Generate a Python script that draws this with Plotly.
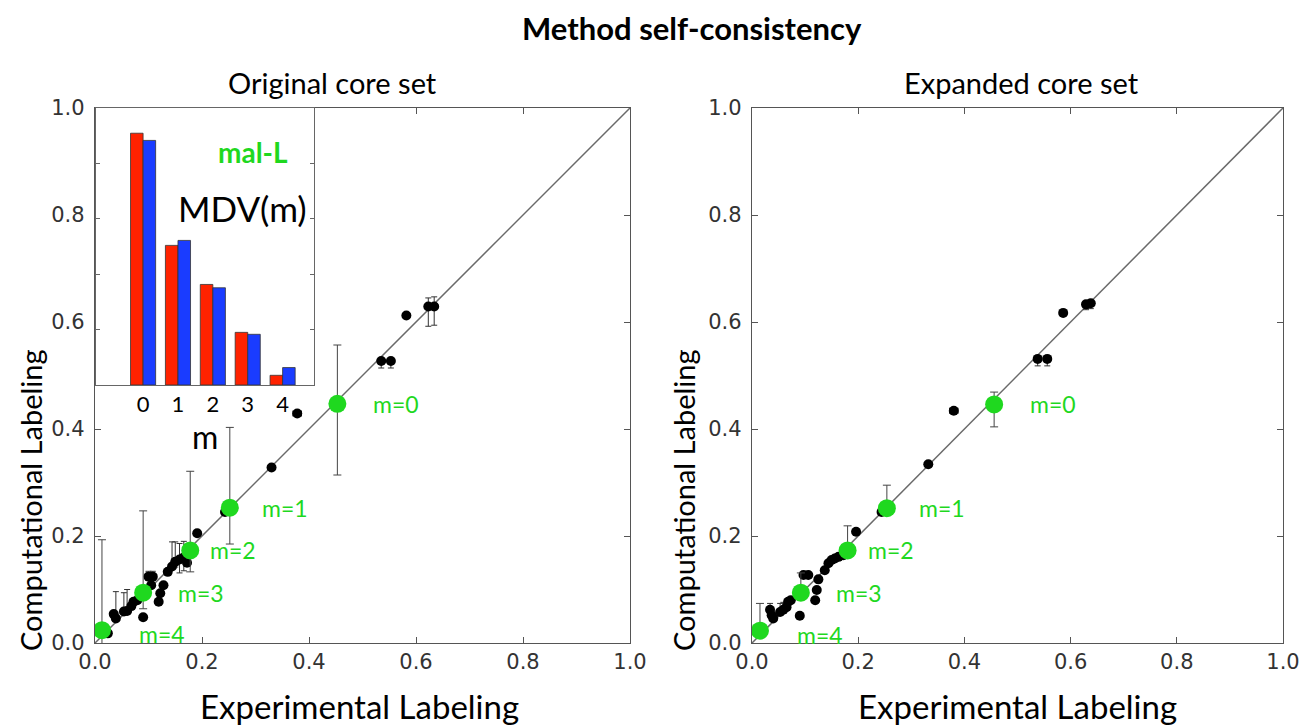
import plotly.graph_objects as go

# Reference canvas is 1308x725; the page body adds an 8px margin, so the figure is
# drawn 8px smaller and every reference pixel position is shifted by OFF.
OFF = 8
W, H = 1308 - OFF, 725 - OFF

def fx(px):
    return (px - OFF) / W

def fy(py):
    return 1 - (py - OFF) / H

# ---------------- data ----------------
# Left panel: Original core set
left_black_x = [0.024, 0.035, 0.039, 0.054, 0.060, 0.068, 0.072, 0.079, 0.090, 0.100, 0.108, 0.105,
                0.122, 0.119, 0.128, 0.136, 0.144, 0.150, 0.158, 0.166, 0.172, 0.191, 0.243, 0.330,
                0.378, 0.535, 0.553, 0.582, 0.623, 0.634]
left_black_y = [0.018, 0.054, 0.046, 0.059, 0.060, 0.069, 0.077, 0.080, 0.048, 0.124, 0.124, 0.108,
                0.093, 0.077, 0.108, 0.133, 0.143, 0.152, 0.156, 0.160, 0.150, 0.205, 0.245, 0.328,
                0.429, 0.527, 0.527, 0.612, 0.629, 0.629]
left_black_err_plus = [None, None, 0.050, 0.035, 0.040, None, None, None, None, 0.010, 0.010, None,
                       None, None, None, None, 0.046, 0.037, 0.030, 0.030, None, None, None, 0.005,
                       None, None, None, None, 0.016, 0.018]
left_black_err_minus = [None, None, 0.005, 0.005, 0.005, None, None, None, None, 0.005, 0.005, None,
                        None, None, None, None, 0.005, 0.010, 0.025, 0.025, None, None, None, 0.005,
                        None, 0.013, 0.013, None, 0.037, 0.035]
left_black_xerr = [None] * 24 + [0.008] + [None] * 5

left_green_x = [0.453, 0.252, 0.178, 0.090, 0.013]
left_green_y = [0.447, 0.253, 0.173, 0.094, 0.024]
left_green_err_plus = [0.110, 0.150, 0.148, 0.153, 0.169]
left_green_err_minus = [0.133, 0.068, 0.040, 0.030, 0.030]

# Right panel: Expanded core set
right_black_x = [0.034, 0.037, 0.040, 0.053, 0.059, 0.065, 0.068, 0.073, 0.090, 0.097, 0.106, 0.125,
                 0.122, 0.119, 0.137, 0.144, 0.150, 0.156, 0.163, 0.172, 0.196, 0.244, 0.332,
                 0.380, 0.538, 0.556, 0.586, 0.629, 0.638]
right_black_y = [0.062, 0.052, 0.046, 0.058, 0.062, 0.067, 0.077, 0.080, 0.051, 0.127, 0.127, 0.119,
                 0.099, 0.080, 0.136, 0.149, 0.155, 0.158, 0.161, 0.164, 0.208, 0.245, 0.334,
                 0.434, 0.531, 0.531, 0.617, 0.633, 0.635]
right_black_err_plus = [0.012, None, None, 0.016, 0.014, None, None, None, None, 0.005, 0.005, None,
                        None, None, None, None, None, None, None, None, None, None, 0.004,
                        None, None, None, None, 0.004, 0.004]
right_black_err_minus = [0.005, None, None, 0.005, 0.005, None, None, None, None, 0.005, 0.005, None,
                         None, None, None, None, None, None, None, None, None, None, 0.004,
                         None, 0.013, 0.013, None, 0.010, 0.010]
right_black_xerr = [None] * 23 + [0.008] + [None] * 5

right_green_x = [0.456, 0.254, 0.180, 0.092, 0.015]
right_green_y = [0.446, 0.252, 0.173, 0.094, 0.023]
right_green_err_plus = [0.023, 0.043, 0.046, 0.037, 0.051]
right_green_err_minus = [0.042, 0.010, 0.010, 0.010, 0.010]

green_labels = ["m=0", "m=1", "m=2", "m=3", "m=4"]
label_shift = [34, 30, 18, 33, 35]

# Inset: mal-L MDV(m)
inset_m = [0, 1, 2, 3, 4]
inset_red = [0.909, 0.504, 0.363, 0.190, 0.035]
inset_blue = [0.883, 0.522, 0.351, 0.183, 0.063]

main_ticks = [0.0, 0.2, 0.4, 0.6, 0.8, 1.0]
main_ticktext = ["0.0", "0.2", "0.4", "0.6", "0.8", "1.0"]

GREEN = "#1fd81f"
TXTFONT = "Lato"

fig = go.Figure()

def add_panel(xa, ya, bx, by, bep, bem, bxe, gx, gy, gep, gem):
    fig.add_trace(go.Scatter(x=[0, 1], y=[0, 1], mode="lines", xaxis=xa, yaxis=ya,
                             line=dict(color="#6a6a6a", width=1.5), hoverinfo="skip", showlegend=False))
    fig.add_trace(go.Scatter(x=bx, y=by, mode="markers", xaxis=xa, yaxis=ya, showlegend=False,
                             marker=dict(color="black", size=10),
                             error_y=dict(type="data", symmetric=False, array=bep, arrayminus=bem,
                                          color="#333333", thickness=1, width=3),
                             error_x=dict(type="data", array=bxe, color="#333333", thickness=1, width=3)))
    fig.add_trace(go.Scatter(x=gx, y=gy, mode="markers", xaxis=xa, yaxis=ya, showlegend=False,
                             marker=dict(color=GREEN, size=18),
                             error_y=dict(type="data", symmetric=False, array=gep, arrayminus=gem,
                                          color="#444444", thickness=1, width=4)))
    for i, lab in enumerate(green_labels):
        fig.add_annotation(x=gx[i], y=gy[i], xref=xa, yref=ya.replace("axis", ""), text=lab,
                           showarrow=False, xanchor="left", yanchor="middle",
                           xshift=label_shift[i], yshift=(-4 if i == 4 else 0),
                           font=dict(family=TXTFONT, size=23, color=GREEN))

add_panel("x", "y", left_black_x, left_black_y, left_black_err_plus, left_black_err_minus,
          left_black_xerr, left_green_x, left_green_y, left_green_err_plus, left_green_err_minus)
add_panel("x2", "y2", right_black_x, right_black_y, right_black_err_plus, right_black_err_minus,
          right_black_xerr, right_green_x, right_green_y, right_green_err_plus, right_green_err_minus)

# inset bars
fig.add_trace(go.Bar(x=inset_m, y=inset_red, xaxis="x3", yaxis="y3", showlegend=False,
                     marker=dict(color="#ff2200", line=dict(color="#333333", width=0.8))))
fig.add_trace(go.Bar(x=inset_m, y=inset_blue, xaxis="x3", yaxis="y3", showlegend=False,
                     marker=dict(color="#1a3cff", line=dict(color="#333333", width=0.8))))

main_axis = dict(range=[0, 1], tickvals=main_ticks, ticktext=main_ticktext, ticks="inside",
                 ticklen=6, tickcolor="#555555", showline=True, linecolor="#555555", linewidth=1.3,
                 mirror="ticks", showgrid=False, zeroline=False, automargin=False,
                 tickfont=dict(family="DejaVu Sans", size=21, color="#333333"))
main_yaxis = dict(main_axis, ticklabelstandoff=5)

ydom = [fy(643), fy(108)]
fig.update_layout(
    width=W, height=H, margin=dict(l=0, r=0, t=0, b=0, autoexpand=False),
    paper_bgcolor="white", plot_bgcolor="white",
    barmode="group", bargap=0.28, bargroupgap=0,
    xaxis=dict(main_axis, domain=[fx(95), fx(630)], anchor="y"),
    yaxis=dict(main_yaxis, domain=ydom, anchor="x"),
    xaxis2=dict(main_axis, domain=[fx(752), fx(1283)], anchor="y2"),
    yaxis2=dict(main_yaxis, domain=ydom, anchor="x2"),
    xaxis3=dict(domain=[fx(96), fx(314)], anchor="y3", range=[-1.35, 4.9], automargin=False,
                tickvals=inset_m, ticks="", showline=True, linecolor="#666666", linewidth=1,
                mirror=True, showgrid=False, zeroline=False,
                tickfont=dict(family=TXTFONT, size=22, color="black")),
    yaxis3=dict(domain=[fy(385), fy(108)], anchor="x3", range=[0, 1.0], automargin=False,
                tickvals=[0.2, 0.4, 0.6, 0.8], showticklabels=False, ticks="inside", ticklen=4,
                tickcolor="#666666", showline=True, linecolor="#666666", linewidth=1,
                mirror="ticks", showgrid=False, zeroline=False),
)

def pa(text, x, y, size, color="black", bold=False, angle=0):
    fig.add_annotation(x=fx(x), y=fy(y), xref="paper", yref="paper", showarrow=False,
                       text=(f"<b>{text}</b>" if bold else text), textangle=angle,
                       xanchor="center", yanchor="middle",
                       font=dict(family=TXTFONT, size=size, color=color))

pa("Method self-consistency", 692, 28, 31, bold=True)
pa("Original core set", 332, 82, 29)
pa("Expanded core set", 1021, 82, 29)
pa("Experimental Labeling", 359, 706, 33)
pa("Experimental Labeling", 1017, 706, 33)
pa("Computational Labeling", 30, 500, 29, angle=-90)
pa("Computational Labeling", 683, 500, 29, angle=-90)
pa("mal-L", 253, 152, 28, color=GREEN, bold=True)
pa("MDV(m)", 242, 208, 35)
pa("m", 205, 436, 32)

fig.write_html("out.html")
